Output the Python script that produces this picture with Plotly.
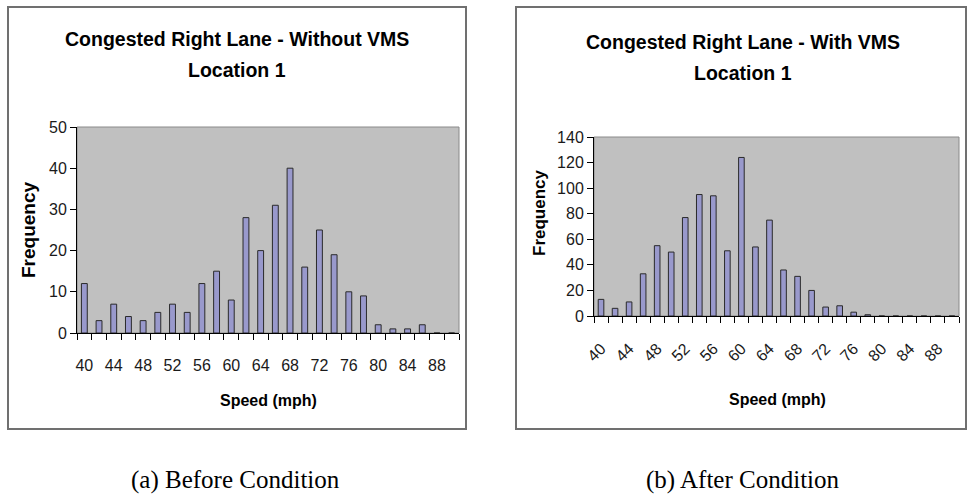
import plotly.graph_objects as go

# ---- data ----
speeds = [40, 42, 44, 46, 48, 50, 52, 54, 56, 58, 60, 62, 64, 66, 68,
          70, 72, 74, 76, 78, 80, 82, 84, 86, 88, 90]
freq_without_vms = [12, 3, 7, 4, 3, 5, 7, 5, 12, 15, 8, 28, 20, 31, 40,
                    16, 25, 19, 10, 9, 2, 1, 1, 2, 0, 0]
freq_with_vms = [13, 6, 11, 33, 55, 50, 77, 95, 94, 51, 124, 54, 75, 36, 31,
                 20, 7, 8, 3, 1, 0, 0, 0, 0, 0, 0]
tick_labels = [40, 44, 48, 52, 56, 60, 64, 68, 72, 76, 80, 84, 88]
title_left = ["Congested Right Lane - Without VMS", "Location 1"]
title_right = ["Congested Right Lane - With VMS", "Location 1"]
captions = ["(a) Before Condition", "(b) After Condition"]

W, H = 969, 497


def px(x):
    return x / W


def py(y):
    return 1 - y / H


SANS = "Liberation Sans, Arial, sans-serif"
SERIF = "Liberation Serif, Times New Roman, serif"

BAR_FILL = "#9999cc"
BAR_LINE = "#2a2a2a"
PLOT_BG = "#c0c0c0"

boundaries = [s - 1 for s in speeds] + [speeds[-1] + 1]

fig = go.Figure()
fig.add_trace(go.Bar(x=speeds, y=freq_without_vms, width=0.8,
                     marker=dict(color=BAR_FILL, line=dict(color=BAR_LINE, width=1)),
                     xaxis="x", yaxis="y", showlegend=False))
fig.add_trace(go.Bar(x=speeds, y=freq_with_vms, width=0.8,
                     marker=dict(color=BAR_FILL, line=dict(color=BAR_LINE, width=1)),
                     xaxis="x2", yaxis="y2", showlegend=False))


def xaxis_cfg(domain, anchor, angle, standoff):
    return dict(
        domain=domain, anchor=anchor, automargin=False,
        range=[boundaries[0], boundaries[-1]],
        tickmode="array", tickvals=tick_labels, ticktext=[str(t) for t in tick_labels],
        ticks="", tickangle=angle, ticklabelstandoff=standoff,
        tickfont=dict(family=SANS, size=16, color="#1a1a1a"),
        minor=dict(tickmode="array", tickvals=boundaries, ticks="outside",
                   ticklen=6, tickcolor="#000", tickwidth=1, showgrid=False),
        showline=True, linecolor="#000", linewidth=1,
        showgrid=False, zeroline=False, fixedrange=True,
    )


def yaxis_cfg(domain, anchor, rng, dtick):
    return dict(
        domain=domain, anchor=anchor, range=rng, dtick=dtick, tick0=0,
        automargin=False,
        ticks="outside", ticklen=6, tickcolor="#000", tickwidth=1,
        tickfont=dict(family=SANS, size=16, color="#1a1a1a"),
        showline=True, linecolor="#000", linewidth=1,
        showgrid=False, zeroline=False, fixedrange=True,
    )


layout = dict(
    width=W, height=H, autosize=False,
    margin=dict(l=0, r=0, t=0, b=0, pad=0),
    paper_bgcolor="white", plot_bgcolor=PLOT_BG,
    bargap=0.6,
    xaxis=xaxis_cfg([px(77), px(459)], "y", 0, 18),
    yaxis=yaxis_cfg([py(333), py(127)], "x", [0, 50], 10),
    xaxis2=xaxis_cfg([px(594), px(959)], "y2", -45, 16),
    yaxis2=yaxis_cfg([py(316), py(137)], "x2", [0, 140], 20),
)
fig.update_layout(**layout)

# gray plot-area border (top/right edges)
for xr, yr in (("x domain", "y domain"), ("x2 domain", "y2 domain")):
    fig.add_shape(type="rect", xref=xr, yref=yr, x0=0, x1=1, y0=0, y1=1,
                  line=dict(color="#8a8a8a", width=1), layer="below")

# chart frames
for x0, x1 in ((8, 466), (516, 966)):
    fig.add_shape(type="rect", xref="paper", yref="paper",
                  x0=px(x0), x1=px(x1), y0=py(429), y1=py(7),
                  line=dict(color="#707070", width=2))


def ann(text, x, y, family, size, bold=False, angle=0, color="#000"):
    t = f"<b>{text}</b>" if bold else text
    fig.add_annotation(text=t, x=px(x), y=py(y), xref="paper", yref="paper",
                       xanchor="center", yanchor="middle", showarrow=False,
                       textangle=angle, font=dict(family=family, size=size, color=color))


# titles
ann(title_left[0], 237, 39, SANS, 19.5, bold=True)
ann(title_left[1], 237, 70, SANS, 19.5, bold=True)
ann(title_right[0], 743, 42, SANS, 19.5, bold=True)
ann(title_right[1], 743, 73, SANS, 19.5, bold=True)

# axis titles
ann("Speed (mph)", 268, 400, SANS, 16, bold=True)
ann("Speed (mph)", 777, 399, SANS, 16, bold=True)
ann("Frequency", 29, 230, SANS, 19, bold=True, angle=-90)
ann("Frequency", 539, 213, SANS, 17, bold=True, angle=-90)

# captions
ann(captions[0], 235, 480, SERIF, 25)
ann(captions[1], 743, 480, SERIF, 25)

fig.write_html(
    "out.html",
    config={"displayModeBar": False, "staticPlot": True},
    post_script="document.body.style.margin='0';document.body.style.overflow='hidden';",
)
